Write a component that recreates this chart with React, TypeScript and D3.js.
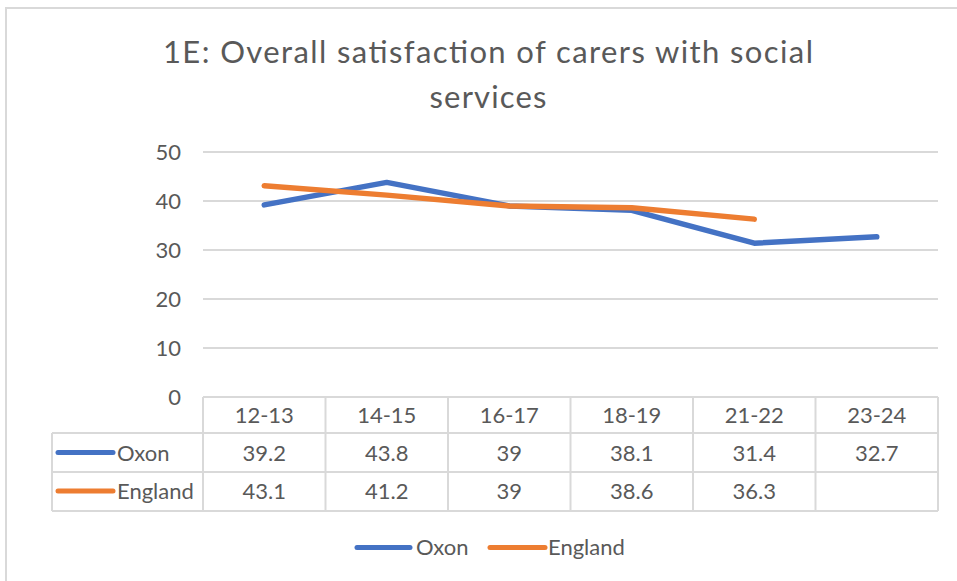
import React from "react";
import * as d3 from "d3";

const categories = ["12-13", "14-15", "16-17", "18-19", "21-22", "23-24"];
const oxon: (number | null)[] = [39.2, 43.8, 39, 38.1, 31.4, 32.7];
const england: (number | null)[] = [43.1, 41.2, 39, 38.6, 36.3, null];
const yTicks = [0, 10, 20, 30, 40, 50];
const seriesNames = ["Oxon", "England"];
const seriesColors = ["#4472C4", "#ED7D31"];
const titleLines = ["1E: Overall satisfaction of carers with social", "services"];

const W = 957;
const H = 581;
const FONT = "Lato, 'Open Sans', 'Liberation Sans', sans-serif";
const TEXT = "#595959";
const GRID = "#d9d9d9";

export default function App() {
  const plotLeft = 203;
  const plotRight = 938;
  const plotTop = 152;
  const plotBottom = 397;
  const x = d3.scaleBand<string>().domain(categories).range([plotLeft, plotRight]);
  const y = d3.scaleLinear().domain([0, 50]).range([plotBottom, plotTop]);
  const cx = (c: string) => (x(c) as number) + x.bandwidth() / 2;

  const series = [oxon, england];
  const line = d3
    .line<number | null>()
    .defined((d) => d !== null)
    .x((_, i) => cx(categories[i]))
    .y((d) => y(d as number));

  const rowTops = [397, 433, 472, 511];
  const tableLeft = 52;
  const headerBase = 423;
  const rowBases = [461, 499];
  const keyY = [452.5, 491];

  return (
    <div style={{ position: "absolute", left: 0, top: 0 }}>
      <svg width={W} height={H} style={{ display: "block", background: "#fff" }} fontFamily={FONT}>
        <rect x={6} y={8} width={1000} height={1000} fill="#fff" stroke={GRID} strokeWidth={2} />
        {/* title */}
        <text x={488} y={63} textAnchor="middle" fontSize={31} fill={TEXT} textLength={650} lengthAdjust="spacing">{titleLines[0]}</text>
        <text x={488} y={108} textAnchor="middle" fontSize={31} fill={TEXT} textLength={117} lengthAdjust="spacing">{titleLines[1]}</text>

        {/* gridlines */}
        {yTicks.map((t) => (
          <line key={t} x1={plotLeft} x2={plotRight} y1={y(t)} y2={y(t)} stroke={GRID} strokeWidth={2} />
        ))}
        {yTicks.map((t) => (
          <text key={"l" + t} x={181} y={y(t) + 8} textAnchor="end" fontSize={22} fill={TEXT}>{t}</text>
        ))}

        {/* table */}
        <g stroke={GRID} strokeWidth={2} fill="none">
          <line x1={plotLeft} x2={plotRight} y1={rowTops[0]} y2={rowTops[0]} />
          <line x1={tableLeft} x2={plotRight} y1={rowTops[1]} y2={rowTops[1]} />
          <line x1={tableLeft} x2={plotRight} y1={rowTops[2]} y2={rowTops[2]} />
          <line x1={tableLeft} x2={plotRight} y1={rowTops[3]} y2={rowTops[3]} />
          <line x1={tableLeft} x2={tableLeft} y1={rowTops[1]} y2={rowTops[3]} />
          {categories.map((c) => (
            <line key={c} x1={x(c)} x2={x(c)} y1={rowTops[0]} y2={rowTops[3]} />
          ))}
          <line x1={plotRight} x2={plotRight} y1={rowTops[0]} y2={rowTops[3]} />
        </g>
        {categories.map((c) => (
          <text key={"h" + c} x={cx(c)} y={headerBase} textAnchor="middle" fontSize={22} fill={TEXT}>{c}</text>
        ))}
        {series.map((s, si) => (
          <g key={"row" + si}>
            <line x1={58} x2={113} y1={keyY[si]} y2={keyY[si]} stroke={seriesColors[si]} strokeWidth={5} strokeLinecap="round" />
            <text x={117} y={rowBases[si]} fontSize={22} fill={TEXT}>{seriesNames[si]}</text>
            {s.map((v, i) =>
              v === null ? null : (
                <text key={i} x={cx(categories[i])} y={rowBases[si]} textAnchor="middle" fontSize={22} fill={TEXT}>{v}</text>
              )
            )}
          </g>
        ))}

        {/* lines */}
        {series.map((s, si) => (
          <path key={"p" + si} d={line(s) || ""} fill="none" stroke={seriesColors[si]} strokeWidth={5.5} strokeLinecap="round" strokeLinejoin="round" />
        ))}

        {/* legend */}
        <line x1={357} x2={410} y1={547.5} y2={547.5} stroke={seriesColors[0]} strokeWidth={5} strokeLinecap="round" />
        <text x={416} y={555} fontSize={22} fill={TEXT}>{seriesNames[0]}</text>
        <line x1={490} x2={545} y1={547.5} y2={547.5} stroke={seriesColors[1]} strokeWidth={5} strokeLinecap="round" />
        <text x={548} y={555} fontSize={22} fill={TEXT}>{seriesNames[1]}</text>
      </svg>
    </div>
  );
}
